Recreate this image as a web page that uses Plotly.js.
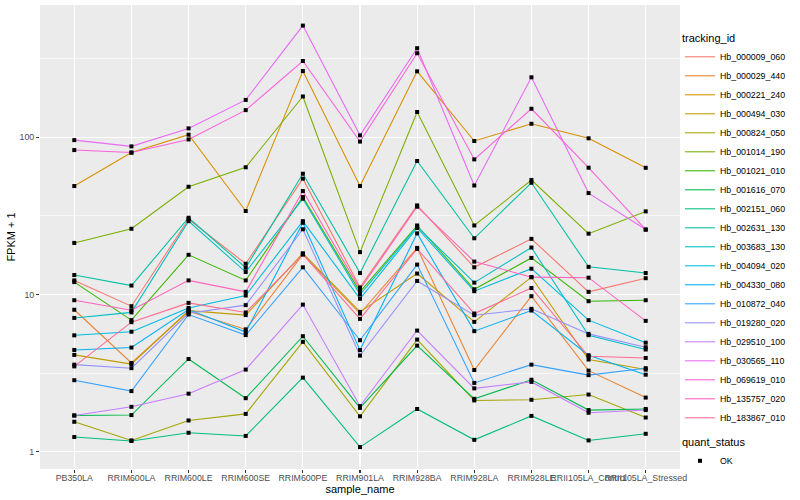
<!DOCTYPE html>
<html>
<head>
<meta charset="utf-8">
<script src="https://cdn.plot.ly/plotly-3.0.1.min.js"></script>
<style>
html,body{margin:0;padding:0;background:#ffffff;}
#chart{width:800px;height:500px;}
</style>
</head>
<body>
<div id="chart"></div>
<script>
// ---- categories ----
const samples = ['PB350LA','RRIM600LA','RRIM600LE','RRIM600SE','RRIM600PE','RRIM901LA','RRIM928BA','RRIM928LA','RRIM928LE','RRII105LA_Control','RRII105LA_Stressed'];

// ---- series values (FPKM + 1), one array per tracking_id, in sample order ----
const Hb_000009_060 = [12.3, 8.43, 30.1, 15.7, 54.6, 11.1, 36.9, 14.9, 22.6, 10.4, 12.7];
const Hb_000029_440 = [8.0, 3.67, 7.83, 6.0, 18.0, 7.57, 19.8, 3.31, 9.76, 3.28, 2.21];
const Hb_000221_240 = [49, 80, 104, 34, 264, 49, 263, 94.8, 122, 98.6, 64];
const Hb_000494_030 = [4.13, 3.61, 7.9, 7.4, 18.3, 7.76, 13.6, 6.7, 12.9, 3.86, 3.33];
const Hb_000824_050 = [1.55, 1.18, 1.58, 1.74, 5.0, 1.68, 5.17, 2.12, 2.14, 2.31, 1.65];
const Hb_001014_190 = [21.3, 26.2, 48.5, 64.5, 182, 18.6, 145, 27.5, 53.5, 24.4, 33.8];
const Hb_001021_010 = [12.0, 6.87, 17.9, 12.3, 41.7, 10.4, 27.5, 10.8, 17.1, 9.07, 9.2];
const Hb_001616_070 = [1.70, 1.71, 3.89, 2.19, 5.43, 1.90, 4.73, 2.17, 2.87, 1.84, 1.87];
const Hb_002151_060 = [1.24, 1.17, 1.32, 1.26, 2.96, 1.07, 1.87, 1.19, 1.69, 1.18, 1.30];
const Hb_002631_130 = [13.3, 11.4, 30.8, 14.8, 58.7, 13.7, 70.7, 22.8, 51.4, 15.0, 13.7];
const Hb_003683_130 = [7.1, 7.7, 29.3, 13.9, 40.7, 10.0, 27.0, 11.9, 19.9, 5.51, 4.47];
const Hb_004094_020 = [5.5, 5.8, 8.22, 9.86, 29.3, 9.4, 26.5, 10.5, 14.6, 6.87, 4.94];
const Hb_004330_080 = [4.44, 4.6, 8.02, 5.77, 28.6, 4.43, 24.5, 5.85, 7.91, 4.11, 3.09];
const Hb_010872_040 = [2.85, 2.43, 7.46, 5.52, 14.9, 5.12, 15.5, 2.74, 3.58, 3.07, 3.40];
const Hb_019280_020 = [3.58, 3.40, 7.6, 8.56, 26.0, 4.09, 12.2, 7.39, 8.11, 5.62, 4.62];
const Hb_029510_100 = [1.70, 1.93, 2.34, 3.33, 8.63, 1.95, 5.9, 2.53, 2.78, 1.77, 1.84];
const Hb_030565_110 = [96, 87.6, 114, 173, 514, 103, 369, 49.4, 241, 44.2, 25.9];
const Hb_069619_010 = [83, 80, 97, 149, 306, 94, 343, 72.4, 152, 64.1, 25.9];
const Hb_135757_020 = [9.2, 7.94, 12.3, 10.4, 45.5, 10.8, 36.2, 16.2, 12.9, 12.8, 6.8];
const Hb_183867_010 = [3.49, 6.67, 8.85, 7.69, 18.0, 7.0, 19.5, 7.57, 11.0, 4.05, 3.95];

// ---- legend labels & colours ----
const trackingIds = ['Hb_000009_060','Hb_000029_440','Hb_000221_240','Hb_000494_030','Hb_000824_050','Hb_001014_190','Hb_001021_010','Hb_001616_070','Hb_002151_060','Hb_002631_130','Hb_003683_130','Hb_004094_020','Hb_004330_080','Hb_010872_040','Hb_019280_020','Hb_029510_100','Hb_030565_110','Hb_069619_010','Hb_135757_020','Hb_183867_010'];
const seriesValues = [Hb_000009_060, Hb_000029_440, Hb_000221_240, Hb_000494_030, Hb_000824_050, Hb_001014_190, Hb_001021_010, Hb_001616_070, Hb_002151_060, Hb_002631_130, Hb_003683_130, Hb_004094_020, Hb_004330_080, Hb_010872_040, Hb_019280_020, Hb_029510_100, Hb_030565_110, Hb_069619_010, Hb_135757_020, Hb_183867_010];
const colors = ['#F8766D','#EA8331','#D89000','#C09B00','#A3A500','#7CAE00','#39B600','#00BB4E','#00BF7D','#00C1A3','#00BFC4','#00BAE0','#00B0F6','#35A2FF','#9590FF','#C77CFF','#E76BF3','#FA62DB','#FF62BC','#FF6C91'];
const statusLabel = 'OK';

const FONT = 'Liberation Sans, Arial, Helvetica, sans-serif';

const traces = [];
trackingIds.forEach((id, i) => {
  traces.push({
    type: 'scatter', mode: 'lines', name: id,
    x: samples, y: seriesValues[i],
    line: {color: colors[i], width: 1.07},
    legend: 'legend', hoverinfo: 'skip'
  });
});

const px = [], py = [];
seriesValues.forEach(vals => { vals.forEach((v, j) => { px.push(samples[j]); py.push(v); }); });
traces.push({
  type: 'scatter', mode: 'markers', name: statusLabel,
  x: px, y: py,
  marker: {symbol: 'square', size: 4, color: '#000000'},
  legend: 'legend2', hoverinfo: 'skip'
});

const layout = {
  width: 800, height: 500,
  margin: {l: 40, r: 116, t: 5, b: 31, pad: 0},
  paper_bgcolor: '#FFFFFF',
  plot_bgcolor: '#EBEBEB',
  font: {family: FONT, color: '#000000'},
  showlegend: true,
  xaxis: {
    type: 'category',
    range: [-0.6, samples.length - 0.4],
    tickmode: 'array', tickvals: samples, ticktext: samples,
    tickangle: 0,
    showgrid: true, gridcolor: '#FFFFFF', gridwidth: 1.07,
    zeroline: false, showline: false,
    ticks: 'outside', ticklen: 3, tickwidth: 1.07, tickcolor: '#333333',
    tickfont: {family: FONT, size: 8.8, color: '#4D4D4D'},
    ticklabelstandoff: -3,
    automargin: false,
    title: {text: 'sample_name', font: {family: FONT, size: 11, color: '#000000'}, standoff: 0}
  },
  yaxis: {
    type: 'log',
    range: [-0.110, 2.842],
    tickmode: 'array', tickvals: [1, 10, 100], ticktext: ['1', '10', '100'],
    showgrid: true, gridcolor: '#FFFFFF', gridwidth: 1.07,
    minor: {tickmode: 'array', tickvals: [Math.pow(10, 0.5), Math.pow(10, 1.5), Math.pow(10, 2.5)], showgrid: true, gridcolor: '#FFFFFF', gridwidth: 0.53, ticks: ''},
    zeroline: false, showline: false,
    ticks: 'outside', ticklen: 3, tickwidth: 1.07, tickcolor: '#333333',
    tickfont: {family: FONT, size: 8.8, color: '#4D4D4D'},
    automargin: false,
    title: {text: 'FPKM + 1', font: {family: FONT, size: 11, color: '#000000'}, standoff: 1}
  },
  legend: {
    title: {text: 'tracking_id', font: {family: FONT, size: 11, color: '#000000'}},
    xref: 'container', yref: 'container',
    x: 680 / 800, y: 1 - 28 / 500, xanchor: 'left', yanchor: 'top',
    font: {family: FONT, size: 8.8, color: '#000000'},
    bgcolor: 'rgba(0,0,0,0)', borderwidth: 0,
    itemwidth: 30, tracegroupgap: 0, traceorder: 'normal',
    maxheight: 440
  },
  legend2: {
    title: {text: 'quant_status', font: {family: FONT, size: 11, color: '#000000'}},
    xref: 'container', yref: 'container',
    x: 680 / 800, y: 1 - 432 / 500, xanchor: 'left', yanchor: 'top',
    font: {family: FONT, size: 8.8, color: '#000000'},
    bgcolor: 'rgba(0,0,0,0)', borderwidth: 0,
    itemwidth: 30, maxheight: 60
  }
};

Plotly.newPlot('chart', traces, layout, {staticPlot: true, displayModeBar: false});
</script>
</body>
</html>
